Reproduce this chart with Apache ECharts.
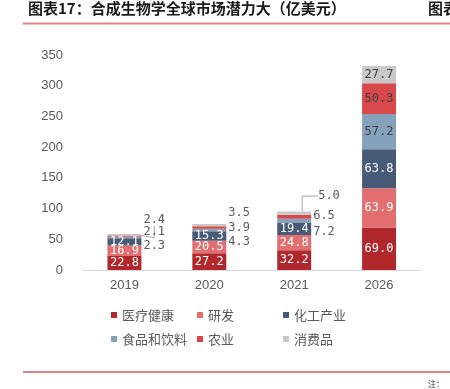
<!DOCTYPE html>
<html>
<head>
<meta charset="utf-8">
<script src="https://cdn.jsdelivr.net/npm/echarts@6/dist/echarts.min.js"></script>
<style>html,body{margin:0;padding:0;background:#fff;}#c{width:450px;height:389px;}</style>
</head>
<body>
<div id="c"></div>
<script>
// ---- data ----
const years = ['2019', '2020', '2021', '2026'];
const seriesNames = ['医疗健康', '研发', '化工产业', '食品和饮料', '农业', '消费品'];
const healthcare = [22.8, 27.2, 32.2, 69.0];
const research = [16.9, 20.5, 24.8, 63.9];
const chemicals = [12.1, 15.3, 19.4, 63.8];
const foodBeverage = [2.3, 4.3, 7.2, 57.2];
const agriculture = [2.1, 3.9, 6.5, 50.3];
const consumer = [2.4, 3.5, 5.0, 27.7];
const yMin = 0, yMax = 350, yStep = 50;
const titleText = '图表17：合成生物学全球市场潜力大（亿美元）';

// ---- styling / layout (not data) ----
const colors = ['#b0282c', '#e26e70', '#475b77', '#86a1bc', '#d8484a', '#c9c9c9'];
const insideLabelColors = ['#ffffff', '#ffffff', '#ffffff', '#404040', '#404040', '#404040'];
// label shifts for small segments placed outside [dx, dy]
const outsideShift = {
  3: [[0, 8], [0, 12], [0, 11]],
  4: [[0, -4], [0, 0], [0, -1]],
  5: [[0, -15], [0, -12], [5, -17]]
};
// leader lines: series -> {dataIndex: length2}
const leaderItems = {5: {0: 12, 2: 16}};
const allValues = [healthcare, research, chemicals, foodBeverage, agriculture, consumer];
const numFont = '"DejaVu Sans Mono", monospace';
const legendColumns = [[0, 3], [1, 4], [2, 5]];
const legendLefts = [111, 197, 283];

const chart = echarts.init(document.getElementById('c'), null, {renderer: 'canvas'});

const series = allValues.map((vals, si) => ({
  name: seriesNames[si],
  type: 'bar',
  stack: 'total',
  barWidth: '40%',
  itemStyle: {color: colors[si]},
  label: {
    show: true,
    position: 'inside',
    color: insideLabelColors[si],
    fontFamily: numFont,
    fontSize: 12,
    formatter: p => Number(p.value).toFixed(1)
  },
  labelLine: {show: false, lineStyle: {color: '#a6a6a6', width: 1}},
  labelLayout: function (p) {
    const sh = outsideShift[p.seriesIndex];
    if (sh && sh[p.dataIndex]) return {dx: sh[p.dataIndex][0], dy: sh[p.dataIndex][1]};
    return {};
  },
  data: vals.map((v, di) => {
    const item = {value: v};
    if (outsideShift[si] && outsideShift[si][di]) {
      item.label = {position: 'right', distance: 2, color: '#595959'};
      if (leaderItems[si] && leaderItems[si][di] != null) {
        item.labelLine = {show: true, length2: leaderItems[si][di], lineStyle: {color: '#a6a6a6', width: 1}};
      }
    }
    return item;
  })
}));

const legends = legendColumns.map((col, ci) => ({
  data: col.map(i => seriesNames[i]),
  orient: 'vertical',
  left: legendLefts[ci], top: 308, padding: 0,
  itemWidth: 6, itemHeight: 6, itemGap: 10, icon: 'rect',
  textStyle: {color: '#595959', fontSize: 13, lineHeight: 14, fontFamily: '"Noto Sans CJK SC"'}
}));

chart.setOption({
  animation: false,
  backgroundColor: '#ffffff',
  grid: {left: 82, right: 28.5, top: 55, bottom: 119},
  xAxis: {
    type: 'category',
    data: years,
    axisLine: {lineStyle: {color: '#d9d9d9'}},
    axisTick: {show: false},
    axisLabel: {color: '#595959', fontSize: 13, fontFamily: '"Liberation Sans", Arial', margin: 9}
  },
  yAxis: {
    type: 'value',
    min: yMin, max: yMax, interval: yStep,
    axisLine: {show: false},
    axisTick: {show: false},
    splitLine: {show: false},
    axisLabel: {color: '#595959', fontSize: 13, fontFamily: '"Liberation Sans", Arial', margin: 19}
  },
  legend: legends,
  graphic: [
    {type: 'text', left: 28, top: 1, style: {text: titleText, font: 'bold 15px "Noto Sans CJK SC"', fill: '#1a1a1a'}},
    {type: 'text', left: 428, top: 1, style: {text: '图表', font: 'bold 15px "Noto Sans CJK SC"', fill: '#1a1a1a'}},
    {type: 'rect', shape: {x: 23, y: 22.5, width: 427, height: 2}, style: {fill: '#e08585'}},
    {type: 'rect', shape: {x: 23, y: 371, width: 427, height: 2}, style: {fill: '#e08585'}},
    {type: 'text', left: 428, top: 380, style: {text: '注：', font: '8px "Noto Sans CJK SC"', fill: '#333'}}
  ],
  series: series
});
</script>
</body>
</html>
